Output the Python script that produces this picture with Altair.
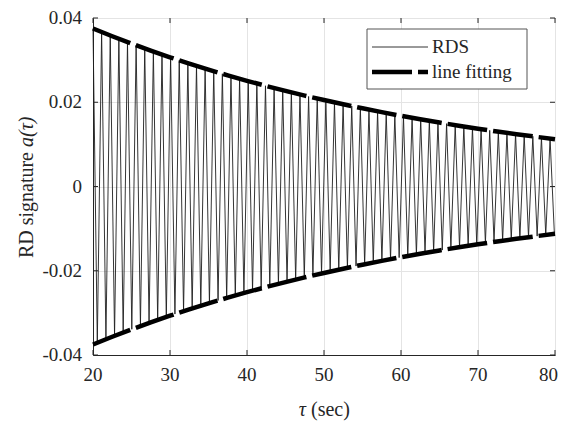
import altair as alt
import pandas as pd

# RDS signal: extremum times (sec) and values
peak_t = [20.00, 20.56, 21.12, 21.68, 22.24, 22.80, 23.36, 23.92, 24.48, 25.04,
          25.60, 26.16, 26.72, 27.28, 27.84, 28.40, 28.96, 29.52, 30.08, 30.64,
          31.20, 31.76, 32.32, 32.88, 33.44, 34.00, 34.56, 35.12, 35.68, 36.24,
          36.80, 37.36, 37.92, 38.48, 39.04, 39.60, 40.16, 40.72, 41.28, 41.84,
          42.40, 42.96, 43.52, 44.08, 44.64, 45.20, 45.76, 46.32, 46.88, 47.44,
          48.00, 48.56, 49.12, 49.68, 50.24, 50.80, 51.36, 51.92, 52.48, 53.04,
          53.60, 54.16, 54.72, 55.28, 55.84, 56.40, 56.96, 57.52, 58.08, 58.64,
          59.20, 59.76, 60.32, 60.88, 61.44, 62.00, 62.56, 63.12, 63.68, 64.24,
          64.80, 65.36, 65.92, 66.48, 67.04, 67.60, 68.16, 68.72, 69.28, 69.84,
          70.40, 70.96, 71.52, 72.08, 72.64, 73.20, 73.76, 74.32, 74.88, 75.44,
          76.00, 76.56, 77.12, 77.68, 78.24, 78.80, 79.36, 79.92]
peak_a = [0.03750, -0.03708, 0.03666, -0.03625, 0.03585, -0.03545, 0.03505, -0.03466, 0.03427, -0.03389,
          0.03351, -0.03313, 0.03276, -0.03240, 0.03203, -0.03168, 0.03132, -0.03097, 0.03063, -0.03028,
          0.02994, -0.02961, 0.02928, -0.02895, 0.02863, -0.02831, 0.02799, -0.02768, 0.02737, -0.02706,
          0.02676, -0.02646, 0.02616, -0.02587, 0.02558, -0.02530, 0.02501, -0.02473, 0.02446, -0.02418,
          0.02391, -0.02365, 0.02338, -0.02312, 0.02286, -0.02261, 0.02235, -0.02210, 0.02186, -0.02161,
          0.02137, -0.02113, 0.02090, -0.02066, 0.02043, -0.02020, 0.01998, -0.01975, 0.01953, -0.01932,
          0.01910, -0.01889, 0.01868, -0.01847, 0.01826, -0.01806, 0.01786, -0.01766, 0.01746, -0.01726,
          0.01707, -0.01688, 0.01669, -0.01651, 0.01632, -0.01614, 0.01596, -0.01578, 0.01560, -0.01543,
          0.01526, -0.01509, 0.01492, -0.01475, 0.01459, -0.01442, 0.01426, -0.01410, 0.01395, -0.01379,
          0.01364, -0.01348, 0.01333, -0.01318, 0.01304, -0.01289, 0.01275, -0.01260, 0.01246, -0.01232,
          0.01219, -0.01205, 0.01192, -0.01178, 0.01165, -0.01152, 0.01139, -0.01126]

# Fitted envelope
env_t = [20, 22.5, 25, 27.5, 30, 32.5, 35, 37.5, 40, 42.5, 45, 47.5, 50,
         52.5, 55, 57.5, 60, 62.5, 65, 67.5, 70, 72.5, 75, 77.5, 80]
env_upper = [0.03750, 0.03566, 0.03392, 0.03225, 0.03067, 0.02917, 0.02774, 0.02638,
             0.02509, 0.02386, 0.02269, 0.02158, 0.02052, 0.01951, 0.01856, 0.01765,
             0.01678, 0.01596, 0.01518, 0.01443, 0.01373, 0.01305, 0.01242, 0.01181, 0.01123]
env_lower = [-0.03750, -0.03566, -0.03392, -0.03225, -0.03067, -0.02917, -0.02774, -0.02638,
             -0.02509, -0.02386, -0.02269, -0.02158, -0.02052, -0.01951, -0.01856, -0.01765,
             -0.01678, -0.01596, -0.01518, -0.01443, -0.01373, -0.01305, -0.01242, -0.01181, -0.01123]

series_names = ["RDS", "line fitting"]
x_ticks = [20, 30, 40, 50, 60, 70, 80]
x_tick_labels = ["20", "30", "40", "50", "60", "70", "80"]
y_ticks = [-0.04, -0.02, 0, 0.02, 0.04]
y_tick_labels = ["-0.04", "-0.02", "0", "0.02", "0.04"]

sig = pd.DataFrame({"t": peak_t, "a": peak_a, "part": "sig"})
env = pd.concat([
    pd.DataFrame({"t": env_t, "a": env_upper, "part": "upper"}),
    pd.DataFrame({"t": env_t, "a": env_lower, "part": "lower"}),
])
xt = pd.DataFrame({"t": x_ticks, "lab": x_tick_labels})
xt_mid = pd.DataFrame({"t": x_ticks[:-1], "lab": x_tick_labels[:-1]})
xt_end = pd.DataFrame({"t": x_ticks[-1:], "lab": x_tick_labels[-1:]})
yt = pd.DataFrame({"a": y_ticks, "lab": y_tick_labels})
one = pd.DataFrame({"k": [0]})

FONT = "Liberation Serif"
TXT = "#262626"
W, H = 462, 337

xs = alt.Scale(domain=[20, 80], nice=False)
ys = alt.Scale(domain=[-0.04, 0.04], nice=False)

x_axis = alt.Axis(values=x_ticks, title=None, labels=False, ticks=False, grid=True,
                  gridColor="#e4e4e4", domainColor=TXT)
y_axis = alt.Axis(values=y_ticks, title=None, labels=False, ticks=False, grid=True,
                  gridColor="#e4e4e4", domainColor=TXT)
x = alt.X("t:Q", scale=xs, axis=x_axis)
y = alt.Y("a:Q", scale=ys, axis=y_axis)

sig_layer = alt.Chart(sig).mark_line(color="#1e1e1e", strokeWidth=0.9).encode(
    x=x, y=y, detail="part:N")
env_layer = alt.Chart(env).mark_line(color="black", strokeWidth=4.5, strokeDash=[40, 6]).encode(
    x=x, y=y, detail="part:N")

# inward ticks (MATLAB style)
tick_bot = alt.Chart(xt).mark_rule(color=TXT).encode(
    x=x, y=alt.value(H), y2=alt.value(H - 5))
tick_top = alt.Chart(xt).mark_rule(color=TXT).encode(
    x=x, y=alt.value(0), y2=alt.value(5))
tick_left = alt.Chart(yt).mark_rule(color=TXT).encode(
    y=y, x=alt.value(0), x2=alt.value(5))
tick_right = alt.Chart(yt).mark_rule(color=TXT).encode(
    y=y, x=alt.value(W), x2=alt.value(W - 5))

# tick labels
xlab = alt.Chart(xt_mid).mark_text(font=FONT, fontSize=19, color=TXT, align="center",
                                   baseline="top").encode(
    x=x, y=alt.value(H + 11), text="lab:N")
xlab_end = alt.Chart(xt_end).mark_text(font=FONT, fontSize=19, color=TXT, align="right",
                                       baseline="top", dx=3).encode(
    x=x, y=alt.value(H + 11), text="lab:N")
ylab = alt.Chart(yt).mark_text(font=FONT, fontSize=19, color=TXT, align="right",
                               baseline="middle").encode(
    y=y, x=alt.value(-11), text="lab:N")

# axis titles (with italic math parts)
xt1 = alt.Chart(one).mark_text(text="τ", font=FONT, fontSize=20, fontStyle="italic",
                               align="right", baseline="alphabetic", color=TXT).encode(
    x=alt.value(213), y=alt.value(398))
xt2 = alt.Chart(one).mark_text(text="(sec)", font=FONT, fontSize=20,
                               align="left", baseline="alphabetic", color=TXT).encode(
    x=alt.value(218), y=alt.value(398))
yt1 = alt.Chart(one).mark_text(text="RD signature", font=FONT, fontSize=20, angle=270,
                               align="right", baseline="alphabetic", color=TXT).encode(
    x=alt.value(-60), y=alt.value(134))
yt2 = alt.Chart(one).mark_text(text="a(τ)", font=FONT, fontSize=20, angle=270, fontStyle="italic",
                               align="left", baseline="alphabetic", color=TXT).encode(
    x=alt.value(-60), y=alt.value(129))

# legend
leg_box = alt.Chart(one).mark_rect(fill="white", stroke="#555555", strokeWidth=1).encode(
    x=alt.value(274), x2=alt.value(434), y=alt.value(11), y2=alt.value(71))
leg_l1 = alt.Chart(one).mark_rule(color="#1e1e1e", strokeWidth=0.9).encode(
    x=alt.value(279), x2=alt.value(335), y=alt.value(29))
leg_l2 = alt.Chart(one).mark_rule(color="black", strokeWidth=4.5, strokeDash=[40, 6]).encode(
    x=alt.value(279), x2=alt.value(335), y=alt.value(54))
leg_t1 = alt.Chart(one).mark_text(text=series_names[0], font=FONT, fontSize=19, align="left",
                                  baseline="middle", color=TXT).encode(
    x=alt.value(339), y=alt.value(29))
leg_t2 = alt.Chart(one).mark_text(text=series_names[1], font=FONT, fontSize=19, align="left",
                                  baseline="middle", color=TXT).encode(
    x=alt.value(339), y=alt.value(54))

chart = alt.layer(
    sig_layer, env_layer, tick_bot, tick_top, tick_left, tick_right, xlab, xlab_end, ylab,
    xt1, xt2, yt1, yt2, leg_box, leg_l1, leg_l2, leg_t1, leg_t2,
).properties(
    width=W, height=H,
    background="white",
    autosize=alt.AutoSizeParams(type="none"),
    padding={"left": 85, "top": 10, "right": 3, "bottom": 70},
).configure_view(stroke=TXT, strokeWidth=1).configure_axis(
    domainColor=TXT, gridColor="#e4e4e4", gridWidth=1,
)

chart.save("out.html", embed_options={"renderer": "svg", "actions": False})
